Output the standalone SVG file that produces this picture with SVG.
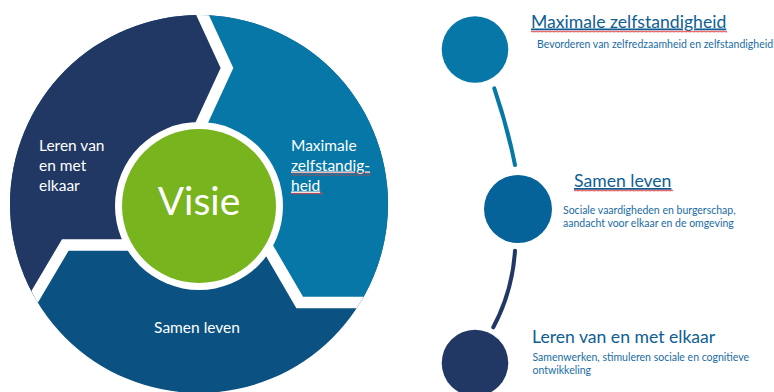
<svg xmlns="http://www.w3.org/2000/svg" width="774" height="392" viewBox="0 0 774 392">
  <defs>
    <clipPath id="outer"><circle cx="199" cy="204" r="189"/></clipPath>
    <pattern id="sq" width="4" height="3" patternUnits="userSpaceOnUse">
      <path d="M0,2.4 L1,0.8 L2,2.4 L3,0.8 L4,2.4" fill="none" stroke="#E23B3B" stroke-width="0.8"/>
    </pattern>
  </defs>
  <style>
    .seg-t { font-family: Lato, "Open Sans", sans-serif; font-size: 15.5px; fill: #ffffff; }
    .gap { fill: none; stroke: #ffffff; stroke-width: 11.5; stroke-linejoin: miter; }
    .title { font-family: Lato, "Open Sans", sans-serif; font-size: 17.6px; fill: #0E5E93; }
    .sub { font-family: Lato, "Open Sans", sans-serif; font-size: 10.5px; fill: #1A6CA3; }
    .conn { fill: none; stroke-width: 4; stroke-linecap: round; }
  </style>
  <rect width="774" height="392" fill="#ffffff"/>

  <g id="cycle" clip-path="url(#outer)">
    <g id="segment-samen-leven">
      <rect x="0" y="0" width="400" height="400" fill="#0B5282"/>
    </g>
    <g id="segment-leren">
      <polygon points="0,0 195.6,0 227,68 202.5,121 190,148 199,206 160,245 65.3,245 15,330 0,330" fill="#213864"/>
    </g>
    <g id="segment-maximale">
      <polygon points="195.6,0 400,0 400,302.5 299.7,302.5 240,200 199,206 190,148 202.5,121 227,68" fill="#0677A7"/>
    </g>
    <g id="gaps">
      <polyline class="gap" points="195.6,0 227,68 202.5,121 190,148"/>
      <polyline class="gap" points="15,330 65.3,245 150,245"/>
      <polyline class="gap" points="240,200 299.7,302.5 400,302.5"/>
    </g>
  </g>
  <g id="visie">
    <circle cx="199" cy="206" r="84" fill="#ffffff"/>
    <circle cx="199" cy="206" r="77" fill="#78B41E"/>
    <text x="199" y="215" text-anchor="middle" font-family="Lato, 'Open Sans', sans-serif" font-size="39" fill="#ffffff">Visie</text>
  </g>
  <g id="label-leren">
    <text class="seg-t" x="39" y="151">Leren van</text>
    <text class="seg-t" x="39" y="170.5">en met</text>
    <text class="seg-t" x="39" y="190.5">elkaar</text>
  </g>
  <g id="label-maximale">
    <text class="seg-t" x="291" y="151">Maximale</text>
    <text class="seg-t" x="291" y="170.5" text-decoration="underline">zelfstandig-</text>
    <text class="seg-t" x="291" y="190.5" text-decoration="underline">heid </text>
    <rect x="291" y="172.5" width="80" height="3" fill="url(#sq)"/>
    <rect x="291" y="192" width="32" height="3" fill="url(#sq)"/>
  </g>
  <g id="label-samen">
    <text class="seg-t" x="197" y="333" text-anchor="middle">Samen leven</text>
  </g>

  <g id="connectors">
    <path class="conn" stroke="#0677A7" d="M494.3,88.3 Q507.4,126.8 515,165"/>
    <path class="conn" stroke="#213864" d="M515,250.7 Q512.5,291 493.3,327.3"/>
  </g>

  <g id="node-maximale">
    <circle cx="475" cy="49.5" r="33.3" fill="#0677A7"/>
    <text class="title" x="531" y="27.5" text-decoration="underline">Maximale zelfstandigheid</text>
    <rect x="531" y="30" width="196" height="3" fill="url(#sq)"/>
    <text class="sub" x="537" y="48">Bevorderen van zelfredzaamheid en zelfstandigheid</text>
  </g>
  <g id="node-samen">
    <circle cx="518" cy="209" r="34" fill="#05639A"/>
    <text class="title" x="574" y="187" text-decoration="underline">Samen leven</text>
    <rect x="574" y="189" width="99" height="3" fill="url(#sq)"/>
    <text class="sub" x="563" y="213.5">Sociale vaardigheden en burgerschap,</text>
    <text class="sub" x="563" y="227">aandacht voor elkaar en de omgeving</text>
  </g>
  <g id="node-leren">
    <circle cx="475" cy="363" r="33.3" fill="#213864"/>
    <text class="title" x="532" y="342.5">Leren van en met elkaar</text>
    <text class="sub" x="532.5" y="361">Samenwerken, stimuleren sociale en cognitieve</text>
    <text class="sub" x="532.5" y="373.5">ontwikkeling</text>
  </g>
</svg>
